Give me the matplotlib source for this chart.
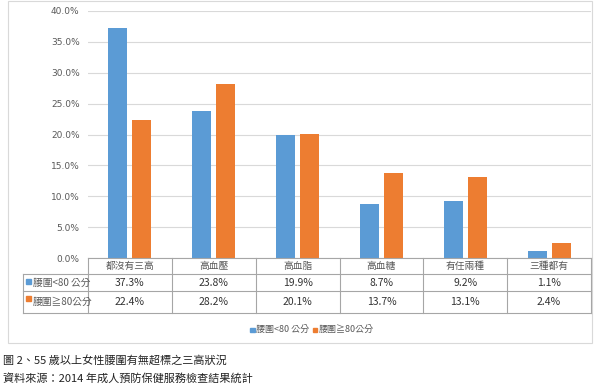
import matplotlib.pyplot as plt
from matplotlib.patches import Rectangle
from matplotlib.lines import Line2D
import numpy as np

plt.rcParams['font.family'] = ['Noto Sans CJK TC', 'DejaVu Sans']

categories = ["都沒有三高", "高血壓", "高血脂", "高血糖", "有任兩種", "三種都有"]
series_names = ["腰圍<80 公分", "腰圍≧80公分"]
under80 = [37.3, 23.8, 19.9, 8.7, 9.2, 1.1]
over80 = [22.4, 28.2, 20.1, 13.7, 13.1, 2.4]
yticks = [0, 5, 10, 15, 20, 25, 30, 35, 40]
caption1 = "圖 2、55 歲以上女性腰圍有無超標之三高狀況"
caption2 = "資料來源：2014 年成人預防保健服務檢查結果統計"

BLUE = "#5B9BD5"
ORANGE = "#ED7D31"
GRID = "#d9d9d9"
TBL = "#a6a6a6"
TXT = "#595959"

W, H = 600, 386
fig = plt.figure(figsize=(6, 3.86), dpi=100)


def fx(px):
    return px / W


def fy(py):
    return 1 - py / H


# chart border
fig.patches.append(Rectangle((fx(8), fy(343)), fx(592 - 8), (343 - 1) / H,
                             transform=fig.transFigure, fill=False,
                             edgecolor=GRID, lw=0.8))

x0, x1, ytop, ybot = 88, 591, 11, 258
ax = fig.add_axes([fx(x0), fy(ybot), fx(x1 - x0), (ybot - ytop) / H])
n = len(categories)
x = np.arange(n)
bw = 0.227
off = 0.143
ax.bar(x - off, under80, bw, color=BLUE, zorder=3)
ax.bar(x + off, over80, bw, color=ORANGE, zorder=3)
ax.set_xlim(-0.5, n - 0.5)
ax.set_ylim(0, 40)
ax.set_yticks(yticks)
ax.set_yticklabels([f"{v:.1f}%" for v in yticks], fontsize=6.5, color=TXT,
                   family=['DejaVu Sans'])
ax.tick_params(axis='y', length=0, pad=6)
ax.set_xticks([])
ax.grid(axis='y', color=GRID, lw=0.8, zorder=0)
for s in ax.spines.values():
    s.set_visible(False)

# data table
cw = (x1 - x0) / n
r0, r1, r2, r3 = 258, 274, 291, 313
lines = [
    ((x0, x1), (r0, r0)),
    ((23, x1), (r1, r1)),
    ((23, x1), (r2, r2)),
    ((23, x1), (r3, r3)),
    ((23, 23), (r1, r3)),
]
for k in range(n + 1):
    lines.append(((x0 + k * cw, x0 + k * cw), (r0, r3)))
for (xa, xb), (ya, yb) in lines:
    fig.add_artist(Line2D([fx(xa), fx(xb)], [fy(ya), fy(yb)],
                          transform=fig.transFigure, color=TBL, lw=0.8))

for k, cat in enumerate(categories):
    cx = x0 + (k + 0.5) * cw
    fig.text(fx(cx), fy((r0 + r1) / 2), cat, ha='center', va='center',
             fontsize=7, color=TXT)
    fig.text(fx(cx), fy((r1 + r2) / 2), f"{under80[k]:.1f}%", ha='center',
             va='center', fontsize=7.5, color="#333333")
    fig.text(fx(cx), fy((r2 + r3) / 2), f"{over80[k]:.1f}%", ha='center',
             va='center', fontsize=7.5, color="#333333")

for name, color, (ya, yb) in zip(series_names, [BLUE, ORANGE],
                                 [(r1, r2), (r2, r3)]):
    fig.patches.append(Rectangle((fx(26), fy(ya + 9.5)), fx(4.5), 4.5 / H,
                                 transform=fig.transFigure, color=color))
    fig.text(fx(33), fy((ya + yb) / 2), name, ha='left', va='center',
             fontsize=7, color=TXT)

# legend
legend_x = [250, 313]
for name, color, lx in zip(series_names, [BLUE, ORANGE], legend_x):
    fig.patches.append(Rectangle((fx(lx), fy(332)), fx(4.5), 4.5 / H,
                                 transform=fig.transFigure, color=color))
    fig.text(fx(lx + 6), fy(329.5), name, ha='left', va='center',
             fontsize=6.5, color=TXT)

# caption
fig.text(fx(3), fy(360), caption1, ha='left', va='center', fontsize=8,
         color="#222222")
fig.text(fx(3), fy(378), caption2, ha='left', va='center', fontsize=8,
         color="#222222")

fig.savefig("out.png", dpi=100, facecolor="white")
